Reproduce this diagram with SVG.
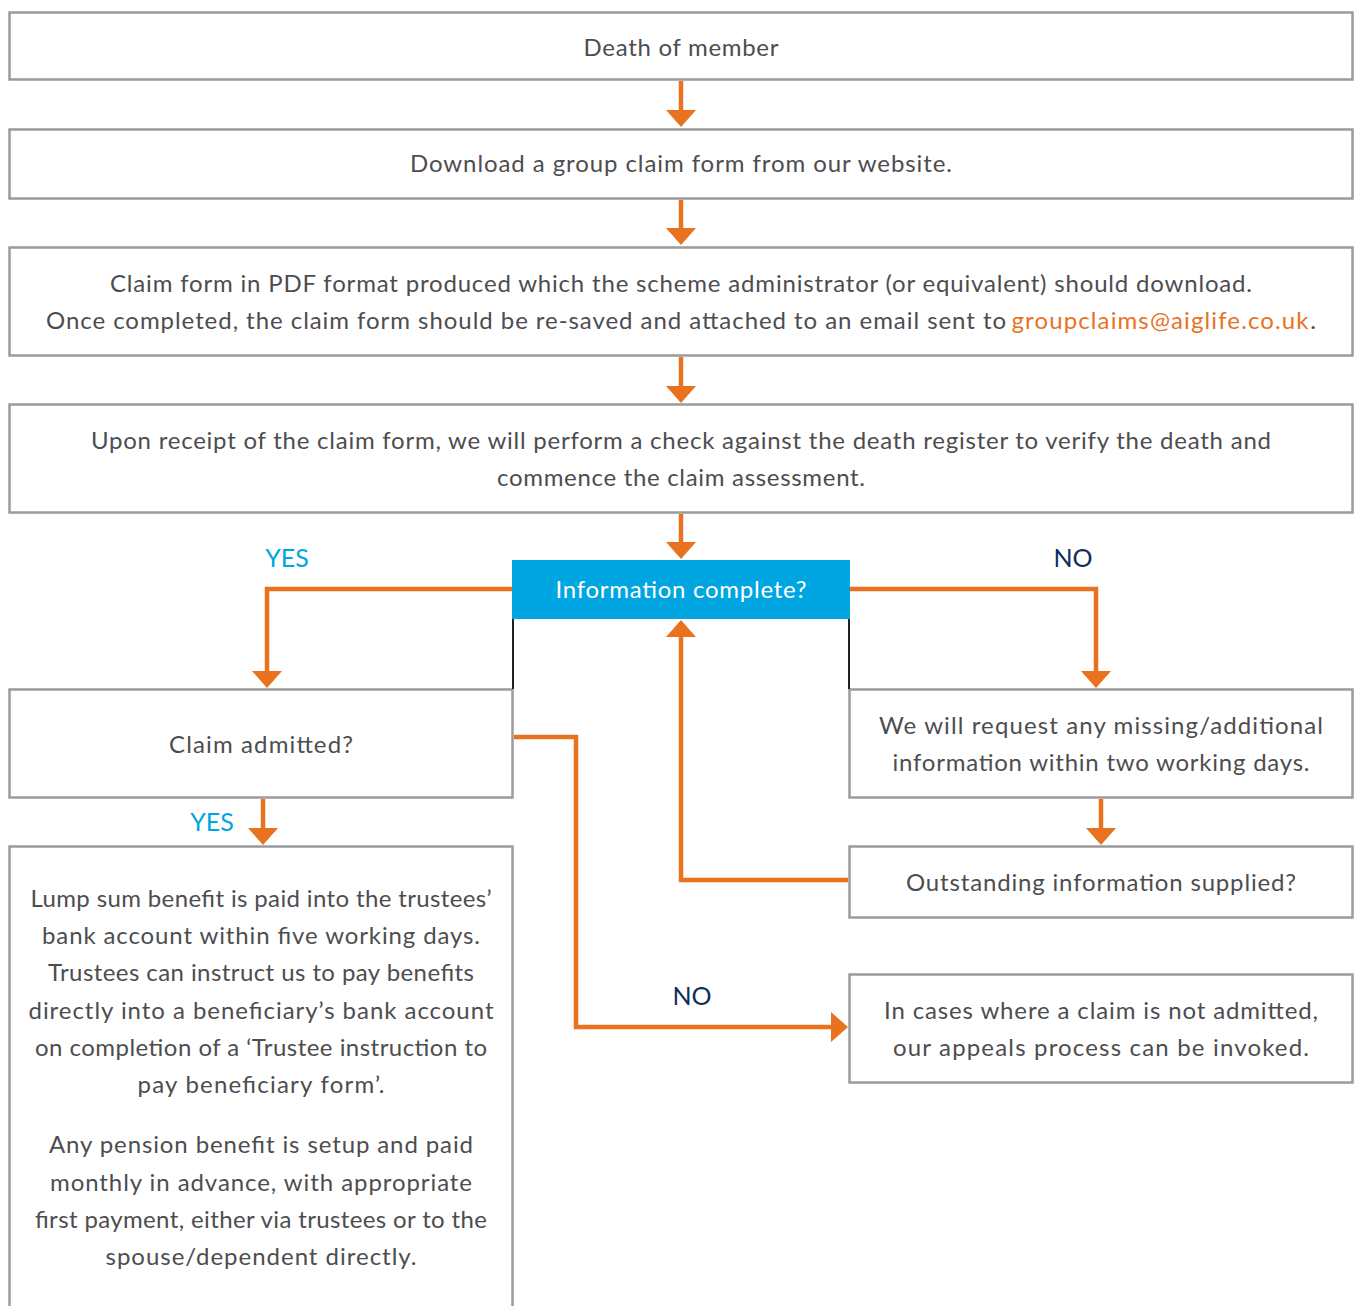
<svg xmlns="http://www.w3.org/2000/svg" width="1356" height="1306" viewBox="0 0 1356 1306">
<style>
.box{fill:#ffffff;stroke:#9b9b9d;stroke-width:2.5}
.t{font-family:Lato,"Liberation Sans",sans-serif;font-size:24px;fill:#4d4d4f;text-anchor:middle}
.conn{fill:none;stroke:#e8721f;stroke-width:4.5;marker-end:url(#ah)}
.yes{font-family:Lato,"Liberation Sans",sans-serif;font-size:25px;fill:#00a6e2;text-anchor:middle}
.no{font-family:Lato,"Liberation Sans",sans-serif;font-size:25px;fill:#0c2d5e;text-anchor:middle}
</style>
<defs>
<marker id="ah" markerUnits="userSpaceOnUse" viewBox="0 0 17 30" markerWidth="17" markerHeight="30" refX="0" refY="15" orient="auto">
<path d="M0,0 L17,15 L0,30 Z" fill="#e8721f"/>
</marker>
</defs>
<g id="death">
<rect class="box" x="9.5" y="12.5" width="1343" height="67"/>
<text class="t" x="681" y="56" textLength="195">Death of member</text>
</g>
<g id="download">
<rect class="box" x="9.5" y="129.5" width="1343" height="69"/>
<text class="t" x="681" y="172" textLength="542">Download a group claim form from our website.</text>
</g>
<g id="pdf">
<rect class="box" x="9.5" y="247.5" width="1343" height="108"/>
<text class="t" x="681" y="292" textLength="1142">Claim form in PDF format produced which the scheme administrator (or equivalent) should download.</text>
<text class="t" x="526" y="329" textLength="960">Once completed, the claim form should be re-saved and attached to an email sent to</text>
<text class="t" x="1160" y="329" textLength="297" style="fill:#e8721f">groupclaims@aiglife.co.uk</text>
<text class="t" x="1313" y="329">.</text>
</g>
<g id="receipt">
<rect class="box" x="9.5" y="404.5" width="1343" height="108"/>
<text class="t" x="681" y="449" textLength="1180">Upon receipt of the claim form, we will perform a check against the death register to verify the death and</text>
<text class="t" x="681" y="486" textLength="368">commence the claim assessment.</text>
</g>
<g id="info">
<rect x="512" y="560" width="338" height="59" fill="#00a6e2"/>
<text class="t" x="681" y="598" textLength="251" style="fill:#ffffff">Information complete?</text>
</g>
<g id="admitted">
<rect class="box" x="9.5" y="689.5" width="503" height="108"/>
<text class="t" x="261" y="753" textLength="184">Claim admitted?</text>
</g>
<g id="request">
<rect class="box" x="849.5" y="689.5" width="503" height="108"/>
<text class="t" x="1101" y="734" textLength="444">We will request any missing/additional</text>
<text class="t" x="1101" y="771" textLength="417">information within two working days.</text>
</g>
<g id="outstanding">
<rect class="box" x="849.5" y="846.5" width="503" height="71"/>
<text class="t" x="1101" y="891" textLength="390">Outstanding information supplied?</text>
</g>
<g id="appeals">
<rect class="box" x="849.5" y="974.5" width="503" height="108"/>
<text class="t" x="1101" y="1019" textLength="434">In cases where a claim is not admitted,</text>
<text class="t" x="1101" y="1056" textLength="416">our appeals process can be invoked.</text>
</g>
<g id="benefit">
<rect class="box" x="9.5" y="846.5" width="503" height="470"/>
<text class="t" x="261" y="907" textLength="461">Lump sum benefit is paid into the trustees’</text>
<text class="t" x="261" y="944" textLength="438">bank account within five working days.</text>
<text class="t" x="261" y="981" textLength="426">Trustees can instruct us to pay benefits</text>
<text class="t" x="261" y="1019" textLength="465">directly into a beneficiary’s bank account</text>
<text class="t" x="261" y="1056" textLength="452">on completion of a ‘Trustee instruction to</text>
<text class="t" x="261" y="1093" textLength="247">pay beneficiary form’.</text>
<text class="t" x="261" y="1153" textLength="424">Any pension benefit is setup and paid</text>
<text class="t" x="261" y="1191" textLength="422">monthly in advance, with appropriate</text>
<text class="t" x="261" y="1228" textLength="452">first payment, either via trustees or to the</text>
<text class="t" x="261" y="1265" textLength="311">spouse/dependent directly.</text>
</g>
<g id="connectors">
<path class="conn" d="M681,81 V110"/>
<path class="conn" d="M681,200 V228"/>
<path class="conn" d="M681,357 V386"/>
<path class="conn" d="M681,514 V542"/>
<path class="conn" d="M512,589 H267 V671"/>
<path class="conn" d="M850,589 H1096 V671"/>
<path class="conn" d="M1101,799 V828"/>
<path class="conn" d="M848,880 H681 V637"/>
<path class="conn" d="M263,799 V828"/>
<path class="conn" d="M514,737 H576 V1027 H831"/>
<path d="M513,619 V689 M849,619 V689" stroke="#231f20" stroke-width="2" fill="none"/>
<text class="yes" x="287" y="567">YES</text>
<text class="no" x="1073" y="567">NO</text>
<text class="yes" x="212" y="831">YES</text>
<text class="no" x="692" y="1005">NO</text>
</g>
</svg>
